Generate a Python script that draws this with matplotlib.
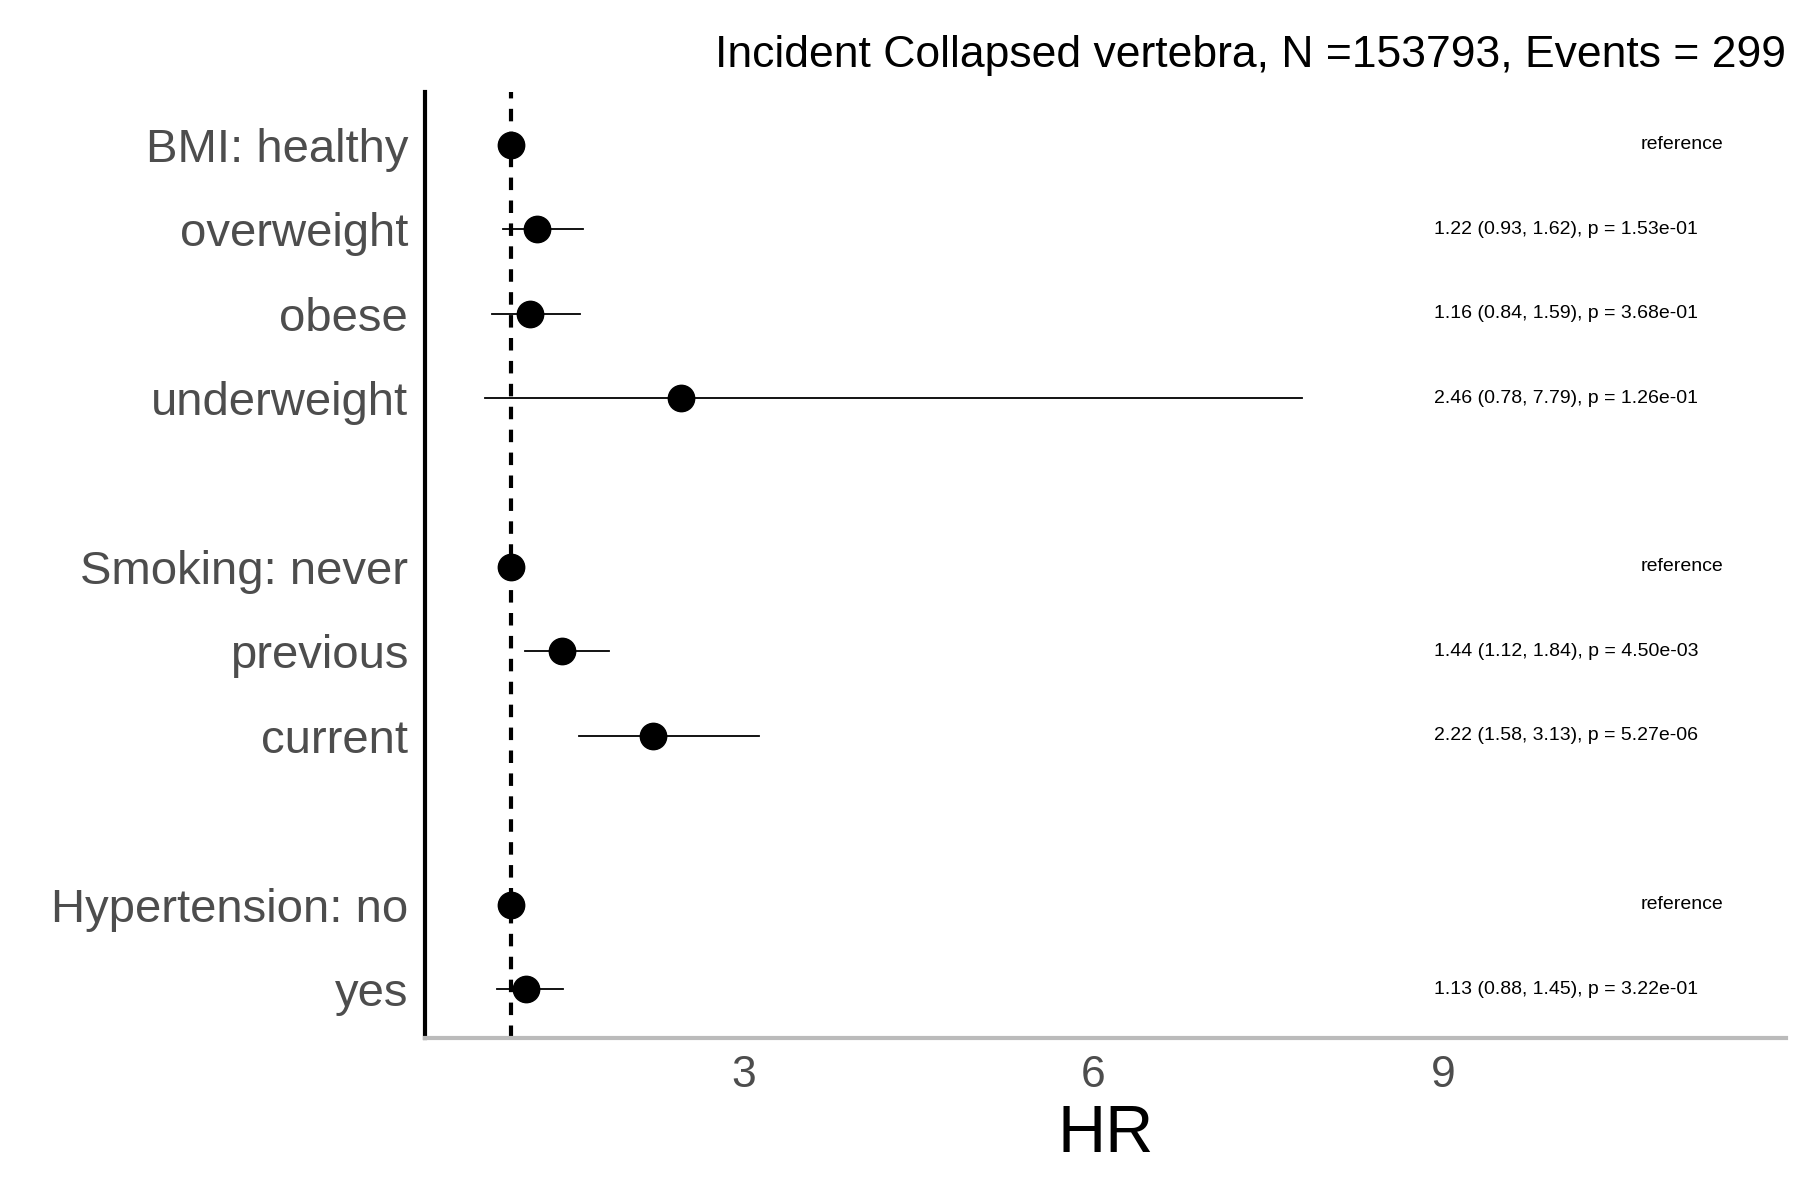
import matplotlib
matplotlib.use("Agg")
import matplotlib.pyplot as plt
import numpy as np

plt.rcParams["font.family"] = "Liberation Sans"

labels = ["BMI: healthy", "overweight", "obese", "underweight",
          "Smoking: never", "previous", "current",
          "Hypertension: no", "yes"]
hr = [1.0, 1.22, 1.16, 2.46, 1.0, 1.44, 2.22, 1.0, 1.13]
lo = [np.nan, 0.93, 0.84, 0.78, np.nan, 1.12, 1.58, np.nan, 0.88]
hi = [np.nan, 1.62, 1.59, 7.79, np.nan, 1.84, 3.13, np.nan, 1.45]
pvals = [None, "1.53e-01", "3.68e-01", "1.26e-01", None, "4.50e-03", "5.27e-06", None, "3.22e-01"]
ypos = [0, 1, 2, 3, 5, 6, 7, 9, 10]
xticks = [3, 6, 9]

fig = plt.figure(figsize=(18, 12), dpi=100)
ax = fig.add_axes([0.236, 0.135, 0.756, 0.788])
ax.axvline(1.0, color="black", ls=(0, (3, 2.5)), lw=3, zorder=1)
for y, h, l, u, p in zip(ypos, hr, lo, hi, pvals):
    if not np.isnan(l):
        ax.plot([l, u], [y, y], color="black", lw=1.3, zorder=2)
        txt = f"{h:.2f} ({l:.2f}, {u:.2f}), p = {p}"
        ax.text(8.92, y, txt, fontsize=14, va="center", ha="left")
    else:
        ax.text(11.05, y, "reference", fontsize=14, va="center", ha="center")
    ax.plot(h, y, "o", color="black", ms=19, zorder=3)

ax.set_xlim(0.26, 11.94)
ax.set_ylim(10.58, -0.62)
ax.set_yticks(ypos)
ax.set_yticklabels(labels, fontsize=34, color="#4d4d4d")
ax.set_xticks(xticks)
ax.set_xticklabels([str(t) for t in xticks], fontsize=32, color="#4d4d4d")
ax.tick_params(length=0, pad=12)
ax.set_xlabel("HR", fontsize=48, labelpad=6)
for s in ["top", "right"]:
    ax.spines[s].set_visible(False)
ax.spines["left"].set_linewidth(3)
ax.spines["left"].set_color("black")
ax.spines["bottom"].set_linewidth(3)
ax.spines["bottom"].set_color("#bbbbbb")
ax.set_title("Incident Collapsed vertebra, N =153793, Events = 299", fontsize=32, loc="right", pad=18)
fig.savefig("out.png", dpi=100)
